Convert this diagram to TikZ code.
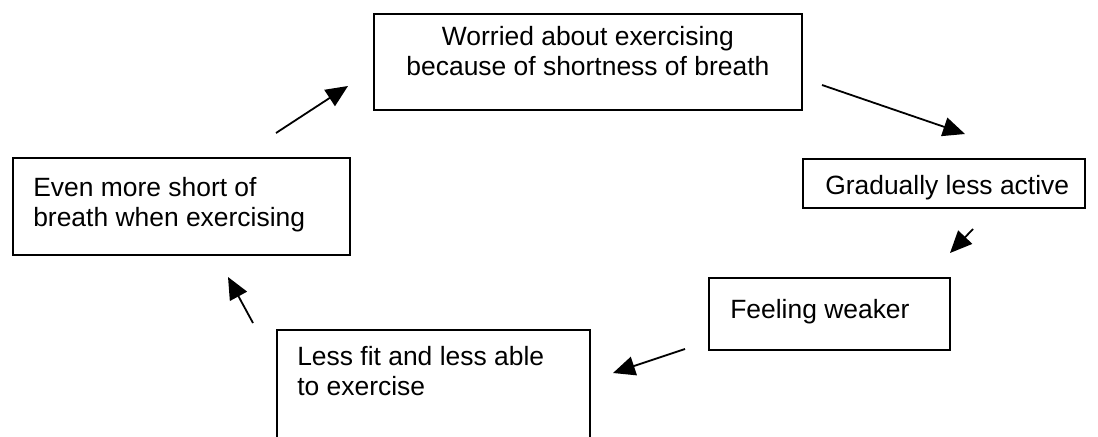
\documentclass[tikz,border=0pt]{standalone}
\usepackage{fontspec}
\setmainfont{Liberation Sans}
\usepackage{tikz}
\usetikzlibrary{arrows.meta}
\tikzset{
  box/.style ={draw=black, line width=0.45mm, inner sep=0pt, anchor=north west},
  txt/.style ={inner sep=0pt, anchor=north west, align=left,
               font=\fontsize{18.8}{21.3}\selectfont},
  ar/.style  ={-{Triangle[length=5.5mm,width=4.8mm]}, draw=black, line width=0.45mm},
}
\begin{document}
\begin{tikzpicture}[x=0.25mm,y=-0.25mm]
\useasboundingbox (0,0) rectangle (1098,436);
\clip (0,0) rectangle (1098,436);
% boxes
\node[box,minimum width=107mm,minimum height=24mm] (worry) at (373,13) {};
\node[box,minimum width=70.5mm,minimum height=12.25mm] (active) at (802,158) {};
\node[box,minimum width=60.25mm,minimum height=18mm] (weaker) at (708,277) {};
\node[box,minimum width=78.25mm,minimum height=40mm] (fit) at (276,329) {};
\node[box,minimum width=84.25mm,minimum height=24.25mm] (breath) at (12,157) {};
% texts
\node[txt,align=center,anchor=north] (worryT) at ([yshift=-3.25mm]worry.north) {Worried about exercising\\because of shortness of breath};
\node[txt] (activeT) at ([shift={(5.75mm,-4.25mm)}]active.north west) {Gradually less active};
\node[txt] (weakerT) at ([shift={(5.5mm,-5.5mm)}]weaker.north west) {Feeling weaker};
\node[txt] (fitT) at ([shift={(5.25mm,-4.25mm)}]fit.north west) {Less fit and less able\\to exercise};
\node[txt] (breathT) at ([shift={(5.25mm,-5mm)}]breath.north west) {Even more short of\\breath when exercising};
% arrows
\coordinate (a1) at (822,85);  \coordinate (a1e) at (965,134);
\coordinate (a2) at (973,229); \coordinate (a2e) at (950,253);
\coordinate (a3) at (685,349); \coordinate (a3e) at (613,373);
\coordinate (a4) at (253,323); \coordinate (a4e) at (228,277);
\coordinate (a5) at (276,133); \coordinate (a5e) at (348,86);
\draw[ar] (a1)--(a1e);
\draw[ar] (a2)--(a2e);
\draw[ar] (a3)--(a3e);
\draw[ar] (a4)--(a4e);
\draw[ar] (a5)--(a5e);
\end{tikzpicture}
\end{document}
